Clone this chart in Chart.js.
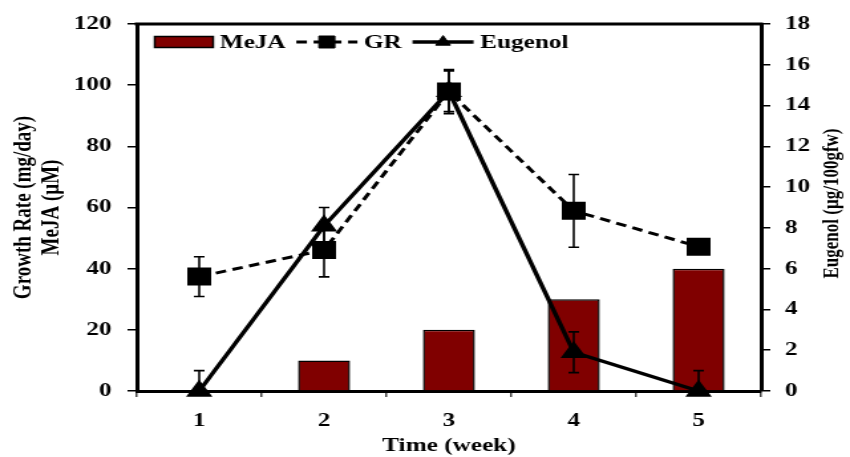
<!DOCTYPE html>
<html>
<head>
<meta charset="utf-8">
<script src="https://cdn.jsdelivr.net/npm/chart.js@4.4.1/dist/chart.umd.min.js"></script>
<style>
  html, body { margin: 0; padding: 0; background: #fff; }
  /* the original figure is stretched sideways, so the canvas is drawn narrow and widened */
  #grafico { display: block; width: 850px !important; height: 457px !important; }
</style>
</head>
<body>
<canvas id="grafico" width="640" height="457" style="width:850px;height:457px"></canvas>
<script>
// Datos
const semanas = ['1', '2', '3', '4', '5'];
const mejaValores = [0, 10, 20, 30, 40];
const grValores = [37.4, 46.1, 97.9, 58.9, 47.2];
const grErrores = [6.5, 8.8, 7.2, 11.9, 1.5];
const eugenolValores = [0, 8.1, 14.7, 1.9, 0];
const eugenolErrores = [1.0, 0.9, 1.0, 1.0, 1.0];

// Escalas: eje izquierdo (GR / MeJA) y eje derecho (Eugenol)
const ejeIzq = { min: 0, max: 120, paso: 20 };
const ejeDer = { min: 0, max: 18, paso: 2 };

const fuente = "'Liberation Serif', 'Times New Roman', serif";
Chart.defaults.font.family = fuente;
Chart.defaults.font.weight = 'bold';
Chart.defaults.font.size = 19;
Chart.defaults.color = '#000';

// Barras de error (solo la parte dentro del área del gráfico)
const barrasError = {
    id: 'barrasError',
    afterDatasetsDraw(chart) {
        const { ctx, chartArea } = chart;
        ctx.save();
        ctx.beginPath();
        ctx.rect(chartArea.left, chartArea.top - 10, chartArea.right - chartArea.left, chartArea.bottom - chartArea.top + 10);
        ctx.clip();
        ctx.strokeStyle = '#000';
        ctx.lineWidth = 1.6;
        chart.data.datasets.forEach((ds, i) => {
            if (!ds.errores) return;
            const meta = chart.getDatasetMeta(i);
            const escala = chart.scales[ds.yAxisID];
            meta.data.forEach((pt, j) => {
                const arriba = escala.getPixelForValue(ds.data[j] + ds.errores[j]);
                const abajo = escala.getPixelForValue(ds.data[j] - ds.errores[j]);
                ctx.beginPath();
                ctx.moveTo(pt.x, arriba); ctx.lineTo(pt.x, abajo);
                ctx.moveTo(pt.x - 4, arriba); ctx.lineTo(pt.x + 4, arriba);
                ctx.moveTo(pt.x - 4, abajo); ctx.lineTo(pt.x + 4, abajo);
                ctx.stroke();
            });
        });
        ctx.restore();
    }
};

// Borde superior, leyenda dentro del gráfico y título del eje derecho
const decoracion = {
    id: 'decoracion',
    afterDraw(chart) {
        const { ctx, chartArea } = chart;
        ctx.save();
        ctx.strokeStyle = '#000';
        ctx.lineWidth = 3;
        ctx.beginPath();
        ctx.moveTo(chartArea.left - 1.5, chartArea.top);
        ctx.lineTo(chartArea.right + 1.5, chartArea.top);
        ctx.stroke();

        // Leyenda
        const y = chartArea.top + 18;
        let x = chartArea.left + 13.5;
        ctx.font = `bold 19px ${fuente}`;
        ctx.textBaseline = 'middle';
        ctx.textAlign = 'left';
        chart.data.datasets.forEach(ds => {
            if (ds.type === 'bar') {
                ctx.fillStyle = ds.backgroundColor;
                ctx.fillRect(x, y - 5.5, 44, 11);
                ctx.lineWidth = 1.5;
                ctx.setLineDash([]);
                ctx.strokeRect(x, y - 5.5, 44, 11);
                x += 49;
            } else {
                ctx.lineWidth = ds.borderWidth;
                ctx.setLineDash(ds.borderDash || []);
                ctx.beginPath();
                ctx.moveTo(x, y);
                ctx.lineTo(x + 46, y);
                ctx.stroke();
                ctx.setLineDash([]);
                ctx.fillStyle = '#000';
                ctx.lineWidth = 1;
                Chart.helpers.drawPoint(ctx, { pointStyle: ds.pointStyle, radius: ds.pointRadius * 0.8, rotation: 0, borderWidth: 1 }, x + 23, y);
                x += 51;
            }
            ctx.fillStyle = '#000';
            ctx.fillText(ds.label, x, y + 1);
            x += ctx.measureText(ds.label).width + 8;
        });

        // Título del eje derecho, leído de abajo hacia arriba
        const der = chart.scales.y1;
        ctx.translate(der.left + 53.5, (chartArea.top + chartArea.bottom) / 2 - 4);
        ctx.rotate(-Math.PI / 2);
        ctx.font = `bold 17px ${fuente}`;
        ctx.textAlign = 'center';
        ctx.fillText('Eugenol (µg/100gfw)', 0, 0);
        ctx.restore();
    }
};

new Chart(document.getElementById('grafico'), {
    data: {
        labels: semanas,
        datasets: [{
            type: 'bar',
            label: 'MeJA',
            data: mejaValores,
            yAxisID: 'y',
            backgroundColor: '#800000',
            borderColor: '#000',
            borderWidth: 1.5,
            barPercentage: 0.417,
            categoryPercentage: 1,
            order: 3
        }, {
            type: 'line',
            label: 'GR',
            data: grValores,
            errores: grErrores,
            yAxisID: 'y',
            borderColor: '#000',
            borderWidth: 3,
            borderDash: [8, 5],
            pointStyle: 'rect',
            pointRadius: 10.6,
            pointBackgroundColor: '#000',
            pointBorderColor: '#000',
            tension: 0,
            clip: false,
            order: 2
        }, {
            type: 'line',
            label: 'Eugenol',
            data: eugenolValores,
            errores: eugenolErrores,
            yAxisID: 'y1',
            borderColor: '#000',
            borderWidth: 3.5,
            pointStyle: 'triangle',
            pointRadius: 8,
            pointBackgroundColor: '#000',
            pointBorderColor: '#000',
            tension: 0,
            clip: false,
            order: 1
        }]
    },
    options: {
        responsive: false,
        animation: false,
        devicePixelRatio: 1,
        layout: { padding: { top: 24, left: 0, right: 0, bottom: 0 } },
        plugins: {
            legend: { display: false },
            tooltip: { enabled: false }
        },
        scales: {
            x: {
                offset: true,
                grid: { offset: true, drawOnChartArea: false, tickLength: 6, color: '#444', lineWidth: 1.5 },
                border: { color: '#000', width: 3 },
                ticks: { padding: 13 },
                title: { display: true, text: 'Time (week)', padding: { top: 0, bottom: 0 }, font: { size: 19, lineHeight: 1.1 } },
                afterFit: s => { s.height = 66; }
            },
            y: {
                position: 'left',
                min: ejeIzq.min,
                max: ejeIzq.max,
                ticks: { stepSize: ejeIzq.paso, padding: 12 },
                grid: { drawOnChartArea: false, tickLength: 7, color: '#000', lineWidth: 1.5 },
                border: { color: '#000', width: 3 },
                title: {
                    display: true,
                    text: ['Growth Rate (mg/day)', 'MeJA (µM)'],
                    padding: { top: 7.5, bottom: 0 },
                    font: { size: 19, lineHeight: 1.1 }
                },
                afterFit: s => { s.width = 103; }
            },
            y1: {
                position: 'right',
                min: ejeDer.min,
                max: ejeDer.max,
                ticks: { stepSize: ejeDer.paso, padding: 11 },
                grid: { drawOnChartArea: false, tickLength: 7, color: '#000', lineWidth: 1.5 },
                border: { color: '#000', width: 3 },
                afterFit: s => { s.width = 67; }
            }
        }
    },
    plugins: [barrasError, decoracion]
});
</script>
</body>
</html>
